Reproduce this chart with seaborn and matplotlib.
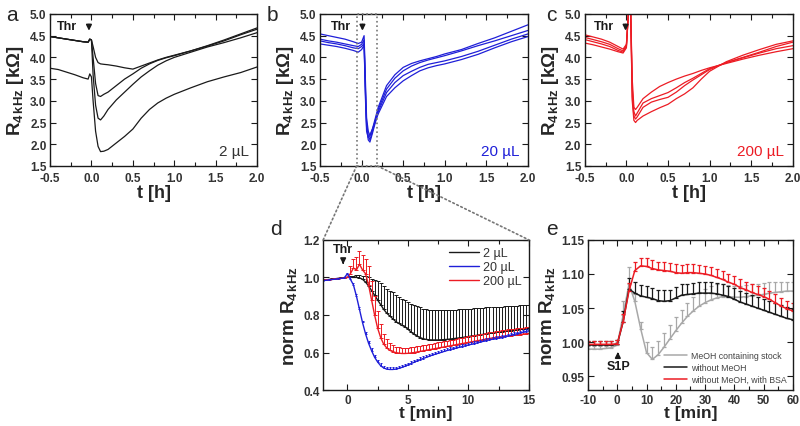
import numpy as np
import seaborn as sns
import matplotlib.pyplot as plt
from matplotlib.patches import ConnectionPatch, Rectangle
from matplotlib.ticker import MultipleLocator

# --- SETUP ---
sns.set_style('ticks')
plt.rcParams['font.family'] = ['Liberation Sans', 'DejaVu Sans']
plt.rcParams['mathtext.fontset'] = 'custom'
plt.rcParams['mathtext.rm'] = 'Liberation Sans'
plt.rcParams['mathtext.bf'] = 'Liberation Sans:bold'
plt.rcParams['mathtext.it'] = 'Liberation Sans:italic'
plt.rcParams['axes.unicode_minus'] = False

BLACK = '#1a1a1a'
BLUE = '#1f1fd8'
RED = '#ec1c24'
GRAY = '#a8a8a8'

# --- DATA: panel a (2 uL), t in h, R in kOhm ---
t_a = [-0.5, -0.4, -0.3, -0.2, -0.1, -0.04, -0.02, 0.0, 0.02, 0.05, 0.08, 0.11, 0.15,
       0.2, 0.3, 0.4, 0.5, 0.6, 0.7, 0.8, 0.9, 1.0, 1.2, 1.4, 1.6, 1.8, 2.0]
a_1 = [4.48, 4.45, 4.42, 4.39, 4.36, 4.35, 4.42, 4.40, 4.25, 4.0, 3.88, 3.85, 3.84,
       3.83, 3.80, 3.76, 3.73, 3.8, 3.87, 3.94, 4.0, 4.05, 4.15, 4.27, 4.4, 4.54, 4.68]
a_2 = [4.48, 4.45, 4.42, 4.39, 4.36, 4.35, 4.42, 4.40, 4.0, 3.4, 3.12, 3.1, 3.15,
       3.2, 3.35, 3.5, 3.62, 3.75, 3.85, 3.93, 3.99, 4.04, 4.15, 4.26, 4.38, 4.52, 4.65]
a_3 = [4.48, 4.45, 4.42, 4.39, 4.36, 4.35, 4.42, 4.40, 3.6, 2.9, 2.6, 2.56, 2.65,
       2.8, 3.02, 3.2, 3.38, 3.55, 3.69, 3.82, 3.92, 4.0, 4.12, 4.24, 4.34, 4.45, 4.57]
a_4 = [3.75, 3.72, 3.66, 3.6, 3.53, 3.5, 3.62, 3.55, 3.0, 2.3, 1.95, 1.83, 1.84,
       1.88, 2.03, 2.18, 2.35, 2.6, 2.8, 2.95, 3.06, 3.15, 3.3, 3.44, 3.55, 3.65, 3.78]

# --- panel b (20 uL) ---
t_b = [-0.5, -0.4, -0.3, -0.2, -0.1, -0.04, 0.0, 0.03, 0.05, 0.06, 0.08, 0.1, 0.13,
       0.2, 0.3, 0.4, 0.5, 0.6, 0.7, 0.8, 0.9, 1.0, 1.2, 1.4, 1.6, 1.8, 2.0]
b_1 = [4.54, 4.50, 4.46, 4.42, 4.36, 4.32, 4.35, 4.5, 3.2, 2.6, 2.3, 2.2, 2.35,
       2.85, 3.35, 3.6, 3.77, 3.86, 3.92, 3.97, 4.02, 4.08, 4.18, 4.32, 4.45, 4.6, 4.75]
b_2 = [4.42, 4.38, 4.35, 4.31, 4.27, 4.25, 4.3, 4.4, 3.0, 2.5, 2.2, 2.1, 2.3,
       2.8, 3.27, 3.52, 3.69, 3.8, 3.88, 3.94, 3.99, 4.04, 4.15, 4.27, 4.38, 4.5, 4.62]
b_3 = [4.38, 4.34, 4.31, 4.27, 4.22, 4.2, 4.25, 4.32, 2.9, 2.4, 2.1, 2.05, 2.25,
       2.75, 3.19, 3.42, 3.58, 3.68, 3.77, 3.84, 3.88, 3.92, 4.02, 4.14, 4.28, 4.42, 4.54]
b_4 = [4.31, 4.28, 4.25, 4.21, 4.16, 4.12, 4.18, 4.28, 2.8, 2.3, 2.15, 2.2, 2.35,
       2.7, 3.1, 3.3, 3.46, 3.58, 3.69, 3.76, 3.81, 3.85, 3.95, 4.07, 4.22, 4.36, 4.48]

# --- panel c (200 uL) ---
t_c = [-0.5, -0.4, -0.3, -0.2, -0.1, -0.04, 0.0, 0.03, 0.05, 0.07, 0.09, 0.11, 0.13,
       0.2, 0.3, 0.4, 0.5, 0.6, 0.7, 0.8, 0.9, 1.0, 1.2, 1.4, 1.6, 1.8, 2.0]
c_1 = [4.52, 4.47, 4.42, 4.35, 4.25, 4.19, 4.3, 5.2, 5.2, 3.5, 2.85, 2.8, 2.85,
       3.05, 3.2, 3.33, 3.42, 3.5, 3.57, 3.63, 3.7, 3.76, 3.86, 3.96, 4.05, 4.13, 4.2]
c_2 = [4.46, 4.41, 4.36, 4.3, 4.2, 4.15, 4.28, 5.2, 5.2, 3.3, 2.75, 2.65, 2.72,
       2.95, 3.05, 3.12, 3.19, 3.3, 3.42, 3.52, 3.63, 3.74, 3.88, 3.99, 4.1, 4.2, 4.27]
c_3 = [4.41, 4.36, 4.31, 4.25, 4.16, 4.12, 4.25, 5.2, 5.2, 3.1, 2.65, 2.58, 2.63,
       2.85, 2.97, 3.03, 3.08, 3.2, 3.35, 3.48, 3.6, 3.72, 3.88, 4.0, 4.12, 4.25, 4.35]
c_4 = [4.33, 4.29, 4.24, 4.19, 4.13, 4.1, 4.22, 5.2, 5.2, 3.0, 2.55, 2.5, 2.55,
       2.65, 2.75, 2.84, 2.92, 3.05, 3.16, 3.3, 3.5, 3.68, 3.9, 4.05, 4.18, 4.3, 4.38]

# --- panel d: normalised, t in min (0.25 min steps from -2 to 15) ---
t_d = np.arange(-2, 15.01, 0.25)
d_black = [0.985, 0.987, 0.989, 0.991, 0.993, 0.995, 0.997, 0.999, 1.0,
           1.0, 1.0, 1.0, 0.998, 0.99, 0.975, 0.955, 0.93, 0.905, 0.88, 0.855, 0.83,
           0.81, 0.795, 0.78, 0.765, 0.755, 0.745, 0.738, 0.725, 0.71, 0.698, 0.688, 0.68,
           0.674, 0.67, 0.668, 0.667, 0.667, 0.667, 0.668, 0.669, 0.67, 0.672, 0.674, 0.676,
           0.678, 0.68, 0.683, 0.685, 0.688, 0.69, 0.692, 0.695, 0.697, 0.7, 0.702, 0.705,
           0.707, 0.709, 0.711, 0.713, 0.715, 0.717, 0.719, 0.721, 0.723, 0.725, 0.727, 0.73]
d_black_err = [0.004, 0.004, 0.004, 0.004, 0.004, 0.004, 0.004, 0.004, 0.004,
               0.008, 0.01, 0.012, 0.015, 0.02, 0.03, 0.045, 0.06, 0.08, 0.1, 0.115, 0.125,
               0.13, 0.135, 0.14, 0.14, 0.14, 0.14, 0.14, 0.145, 0.15, 0.155, 0.158, 0.16,
               0.16, 0.16, 0.16, 0.16, 0.16, 0.16, 0.16, 0.16, 0.158, 0.156, 0.155, 0.153,
               0.152, 0.15, 0.148, 0.146, 0.145, 0.145, 0.144, 0.143, 0.142, 0.14, 0.138, 0.137,
               0.136, 0.135, 0.134, 0.133, 0.132, 0.131, 0.13, 0.129, 0.128, 0.127, 0.126, 0.125]
d_blue = [0.983, 0.985, 0.987, 0.989, 0.991, 0.993, 0.995, 0.998, 1.02,
          0.99, 0.96, 0.9, 0.83, 0.76, 0.70, 0.65, 0.61, 0.575, 0.55, 0.53, 0.518,
          0.512, 0.51, 0.51, 0.512, 0.516, 0.521, 0.527, 0.534, 0.541, 0.548, 0.555, 0.562,
          0.568, 0.574, 0.58, 0.586, 0.591, 0.596, 0.601, 0.606, 0.611, 0.616, 0.62, 0.624,
          0.628, 0.632, 0.636, 0.64, 0.644, 0.648, 0.652, 0.656, 0.66, 0.664, 0.668, 0.671,
          0.674, 0.677, 0.68, 0.684, 0.688, 0.692, 0.696, 0.7, 0.704, 0.708, 0.712, 0.716]
d_blue_err = [0.003, 0.003, 0.003, 0.003, 0.003, 0.003, 0.003, 0.003, 0.005,
              0.01, 0.01, 0.01, 0.01, 0.01, 0.01, 0.012, 0.012, 0.012, 0.012, 0.012, 0.012,
              0.012, 0.012, 0.012, 0.012, 0.012, 0.012, 0.012, 0.012, 0.012, 0.012, 0.012, 0.012,
              0.012, 0.012, 0.012, 0.012, 0.012, 0.012, 0.012, 0.012, 0.012, 0.012, 0.012, 0.012,
              0.012, 0.012, 0.012, 0.012, 0.012, 0.012, 0.012, 0.012, 0.012, 0.012, 0.012, 0.012,
              0.012, 0.012, 0.012, 0.012, 0.012, 0.012, 0.012, 0.012, 0.012, 0.012, 0.012, 0.012]
d_red = [0.984, 0.986, 0.988, 0.99, 0.992, 0.994, 0.996, 0.998, 1.0,
         1.02, 1.05, 1.04, 1.07, 1.04, 1.02, 0.96, 0.88, 0.8, 0.73, 0.68, 0.645,
         0.625, 0.612, 0.605, 0.6, 0.597, 0.595, 0.595, 0.596, 0.598, 0.6, 0.603, 0.606,
         0.609, 0.612, 0.615, 0.618, 0.621, 0.624, 0.627, 0.63, 0.633, 0.636, 0.639, 0.642,
         0.645, 0.648, 0.651, 0.654, 0.657, 0.66, 0.663, 0.666, 0.669, 0.672, 0.675, 0.678,
         0.68, 0.682, 0.684, 0.686, 0.688, 0.69, 0.692, 0.694, 0.696, 0.698, 0.7, 0.702]
d_red_err = [0.003, 0.003, 0.003, 0.003, 0.003, 0.003, 0.003, 0.003, 0.003,
             0.04, 0.05, 0.07, 0.07, 0.08, 0.08, 0.1, 0.1, 0.1, 0.09, 0.07, 0.055,
             0.045, 0.04, 0.035, 0.032, 0.03, 0.03, 0.03, 0.03, 0.03, 0.03, 0.03, 0.03,
             0.03, 0.03, 0.03, 0.03, 0.03, 0.03, 0.03, 0.03, 0.03, 0.03, 0.03, 0.03,
             0.032, 0.032, 0.032, 0.032, 0.032, 0.032, 0.032, 0.032, 0.032, 0.032, 0.032, 0.032,
             0.035, 0.035, 0.035, 0.035, 0.035, 0.035, 0.035, 0.035, 0.035, 0.035, 0.035, 0.035]
d_labels = ['2 µL', '20 µL', '200 µL']

# --- panel e: S1P, t in min (2 min steps from -10 to 60) ---
t_e = np.arange(-10, 60.1, 2)
e_gray = [0.99, 0.99, 0.99, 0.991, 0.992, 0.996,
          1.04, 1.085, 1.06, 1.02, 0.985, 0.975, 0.982, 0.993, 1.005, 1.017,
          1.028, 1.038, 1.046, 1.053, 1.058, 1.062, 1.065, 1.067, 1.067, 1.066,
          1.066, 1.067, 1.068, 1.069, 1.07, 1.072, 1.073, 1.074, 1.075, 1.075]
e_gray_err = [0.004, 0.004, 0.004, 0.004, 0.004, 0.005,
              0.02, 0.025, 0.01, 0.01, 0.015, 0.018, 0.02, 0.02, 0.02, 0.02,
              0.02, 0.02, 0.02, 0.02, 0.02, 0.02, 0.02, 0.018, 0.017, 0.017,
              0.017, 0.017, 0.017, 0.017, 0.017, 0.017, 0.016, 0.015, 0.014, 0.014]
e_black = [0.996, 0.996, 0.996, 0.996, 0.996, 0.997,
           1.03, 1.078, 1.072, 1.068, 1.066, 1.064, 1.061, 1.06, 1.061, 1.065,
           1.069, 1.07, 1.071, 1.072, 1.072, 1.072, 1.071, 1.069, 1.067, 1.063,
           1.059, 1.056, 1.053, 1.05, 1.047, 1.044, 1.041, 1.038, 1.035, 1.033]
e_black_err = [0.006, 0.006, 0.006, 0.006, 0.006, 0.006,
               0.016, 0.016, 0.016, 0.016, 0.016, 0.016, 0.016, 0.016, 0.016, 0.016,
               0.016, 0.016, 0.016, 0.016, 0.016, 0.016, 0.016, 0.016, 0.016, 0.016,
               0.016, 0.016, 0.016, 0.016, 0.016, 0.016, 0.016, 0.016, 0.016, 0.016]
e_red = [0.997, 0.997, 0.997, 0.997, 0.997, 0.998,
         1.03, 1.075, 1.105, 1.112, 1.111, 1.108, 1.106, 1.105, 1.104, 1.102,
         1.101, 1.102, 1.102, 1.101, 1.1, 1.098, 1.095, 1.092, 1.088, 1.085,
         1.08, 1.077, 1.073, 1.07, 1.067, 1.063, 1.058, 1.053, 1.049, 1.046]
e_red_err = [0.005, 0.005, 0.005, 0.005, 0.005, 0.005,
             0.012, 0.012, 0.012, 0.012, 0.012, 0.012, 0.012, 0.012, 0.012, 0.012,
             0.012, 0.012, 0.012, 0.012, 0.012, 0.012, 0.012, 0.012, 0.012, 0.012,
             0.012, 0.012, 0.012, 0.012, 0.012, 0.012, 0.012, 0.012, 0.012, 0.012]
e_labels = ['MeOH containing stock', 'without MeOH', 'without MeOH, with BSA']


def style_axes(ax, xlim, ylim, xmaj, xmin, ymaj, xpad=4.5):
    ax.set_xlim(*xlim)
    ax.set_ylim(*ylim)
    ax.xaxis.set_major_locator(MultipleLocator(xmaj))
    ax.xaxis.set_minor_locator(MultipleLocator(xmin))
    ax.yaxis.set_major_locator(MultipleLocator(ymaj))
    ax.tick_params(which='both', direction='in', top=True, right=True,
                   width=0.8, colors=BLACK, labelcolor='#333333', labelsize=8.5)
    ax.tick_params(which='major', length=4)
    ax.tick_params(which='minor', length=3)
    ax.tick_params(axis='x', pad=xpad)
    ax.tick_params(axis='y', pad=2.5)
    for s in ax.spines.values():
        s.set_linewidth(1.0)
        s.set_color(BLACK)


def draw_err(ax, t, y, err, color, lw=0.8, cap=1.5):
    ax.errorbar(t, y, yerr=[np.zeros(len(err)), err], fmt='none', ecolor=color,
                elinewidth=lw, capsize=cap, capthick=lw)


fig = plt.figure(figsize=(8, 4.27), dpi=100)
ax_a = fig.add_axes([0.0625, 0.609, 0.259, 0.356])
ax_b = fig.add_axes([0.400, 0.609, 0.260, 0.356])
ax_c = fig.add_axes([0.731, 0.609, 0.260, 0.356])
ax_d = fig.add_axes([0.404, 0.084, 0.257, 0.352])
ax_e = fig.add_axes([0.735, 0.084, 0.256, 0.352])

r_label = r'$\mathbf{R_{4\,kHz}}$ [k$\mathbf{\Omega}$]'
norm_label = r'norm $\mathbf{R_{4\,kHz}}$'

# --- top row ---
panels = [
    (ax_a, t_a, [a_1, a_2, a_3, a_4], BLACK, '2 µL', '#333333', -0.03),
    (ax_b, t_b, [b_1, b_2, b_3, b_4], BLUE, '20 µL', BLUE, 0.01),
    (ax_c, t_c, [c_1, c_2, c_3, c_4], RED, '200 µL', RED, -0.01),
]
for ax, t, curves, col, vol, vcol, thr_t in panels:
    for y in curves:
        sns.lineplot(x=t, y=y, ax=ax, color=col, linewidth=0.9, estimator=None)
    style_axes(ax, (-0.5, 2.0), (1.5, 5.0), 0.5, 0.25, 0.5)
    ax.set_xlabel('t [h]', fontsize=13, fontweight='bold', labelpad=0)
    ax.set_ylabel(r_label, fontsize=13.5, fontweight='bold', labelpad=3)
    ax.text(0.96, 0.05, vol, transform=ax.transAxes, ha='right', va='bottom',
            fontsize=11, color=vcol)
    ax.annotate('', xy=(thr_t, 4.55), xytext=(thr_t, 4.82),
                arrowprops=dict(arrowstyle='-|>', color=BLACK, lw=1.2, mutation_scale=8))
    ax.text(thr_t - 0.14, 4.72, 'Thr', ha='right', va='center', fontsize=9,
            fontweight='bold', color=BLACK)

fig.text(0.008, 0.985, 'a', fontsize=15, va='top')
fig.text(0.333, 0.985, 'b', fontsize=15, va='top')
fig.text(0.683, 0.985, 'c', fontsize=15, va='top')
fig.text(0.338, 0.485, 'd', fontsize=15, va='top')
fig.text(0.683, 0.485, 'e', fontsize=15, va='top')

# --- panel d ---
series_d = [(d_black, d_black_err, BLACK, 1.3), (d_red, d_red_err, RED, 1.3),
            (d_blue, d_blue_err, BLUE, 0.9)]
for y, err, col, cap in series_d:
    draw_err(ax_d, t_d, y, err, col, lw=0.7, cap=cap)
    sns.lineplot(x=t_d, y=y, ax=ax_d, color=col, linewidth=1.0, estimator=None)
style_axes(ax_d, (-2, 15), (0.4, 1.2), 5, 2.5, 0.2, xpad=3)
ax_d.set_xlabel('t [min]', fontsize=12.5, fontweight='bold', labelpad=-1)
ax_d.set_ylabel(norm_label, fontsize=13.5, fontweight='bold', labelpad=3)
handles_d = [plt.Line2D([], [], color=c, lw=1.0) for c in (BLACK, BLUE, RED)]
ax_d.legend(handles_d, d_labels, loc='upper right', frameon=False, fontsize=9,
            handlelength=2.4, handletextpad=0.3, labelspacing=0.15,
            borderaxespad=0.2, labelcolor='#333333')
ax_d.annotate('', xy=(-0.35, 1.055), xytext=(-0.35, 1.095),
              arrowprops=dict(arrowstyle='-|>', color=BLACK, lw=1.2, mutation_scale=8))
ax_d.text(-0.35, 1.15, 'Thr', ha='center', va='center', fontsize=9,
          fontweight='bold', color=BLACK)

# --- panel e ---
series_e = [(e_gray, e_gray_err, GRAY), (e_black, e_black_err, BLACK), (e_red, e_red_err, RED)]
for y, err, col in series_e:
    draw_err(ax_e, t_e, y, err, col, lw=0.9, cap=1.6)
    sns.lineplot(x=t_e, y=y, ax=ax_e, color=col, linewidth=1.1, estimator=None)
style_axes(ax_e, (-10, 60), (0.93, 1.15), 10, 5, 0.05, xpad=3)
ax_e.yaxis.set_major_formatter(plt.FormatStrFormatter('%.2f'))
ax_e.set_xlabel('t [min]', fontsize=12.5, fontweight='bold', labelpad=-1)
ax_e.set_ylabel(norm_label, fontsize=13.5, fontweight='bold', labelpad=3)
handles_e = [plt.Line2D([], [], color=c, lw=1.1) for c in (GRAY, BLACK, RED)]
ax_e.legend(handles_e, e_labels, loc='lower right', frameon=False, fontsize=6.3,
            handlelength=2.6, handletextpad=0.5, labelspacing=0.35,
            borderaxespad=0.3, labelcolor='#444444')
ax_e.annotate('', xy=(0.2, 0.990), xytext=(0.2, 0.977),
              arrowprops=dict(arrowstyle='-|>', color=BLACK, lw=1.2, mutation_scale=8))
ax_e.text(0.5, 0.965, 'S1P', ha='center', va='center', fontsize=9,
          fontweight='bold', color=BLACK)

# --- zoom box and connectors between b and d ---
box_t0, box_t1 = -0.06, 0.19
ax_b.add_patch(Rectangle((box_t0, 1.5), box_t1 - box_t0, 3.5, fill=False,
                         ls=':', lw=1.2, ec='#777777', clip_on=False, zorder=5))
for xa, xb in ((box_t0, 0.0), (box_t1, 1.0)):
    con = ConnectionPatch(xyA=(xa, 1.5), coordsA=ax_b.transData,
                          xyB=(xb, 1.0), coordsB=ax_d.transAxes,
                          ls=':', lw=1.2, color='#777777')
    fig.add_artist(con)

for ax in (ax_a, ax_b, ax_c, ax_d, ax_e):
    plt.setp(ax.get_xticklabels() + ax.get_yticklabels(), fontweight='bold')

fig.savefig('out.png', dpi=100)
